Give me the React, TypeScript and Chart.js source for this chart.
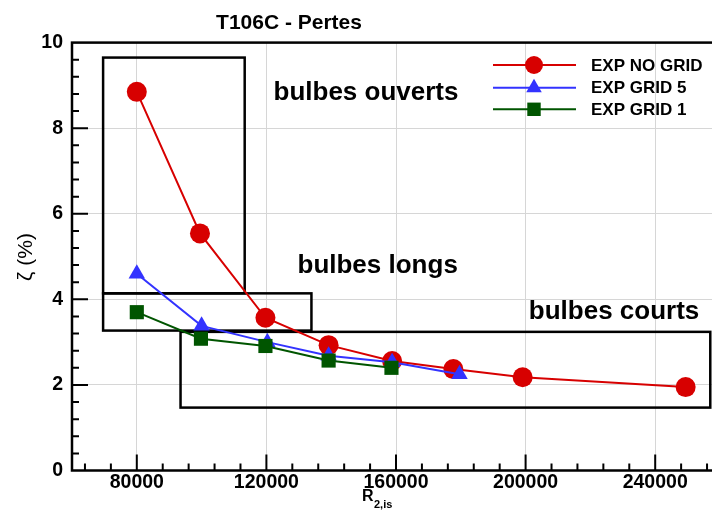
import React, { useEffect, useRef } from 'react';
import { Chart, registerables } from 'chart.js';

Chart.register(...registerables);

// ---- data ----
const chartTitle = 'T106C - Pertes';
const seriesNames = ['EXP NO GRID', 'EXP GRID 5', 'EXP GRID 1'];
const seriesColors = ['#d70000', '#3333ff', '#005500'];
const seriesMarkers = ['circle', 'triangle', 'rect'];

const noGridX = [80000, 99500, 119700, 139200, 158800, 177700, 199100, 249400];
const noGridY = [8.85, 5.54, 3.57, 2.93, 2.56, 2.37, 2.18, 1.95];
const grid5X = [80000, 100000, 120300, 139200, 158800, 179600];
const grid5Y = [4.6, 3.38, 3.0, 2.68, 2.53, 2.25];
const grid1X = [80000, 99800, 119700, 139200, 158600];
const grid1Y = [3.7, 3.08, 2.91, 2.57, 2.4];

const xTicks = [80000, 120000, 160000, 200000, 240000];
const yTicks = [0, 2, 4, 6, 8, 10];

const regionLabels = ['bulbes ouverts', 'bulbes longs', 'bulbes courts'];
const regionLabelX = [122200, 129600, 201000];
const regionLabelY = [8.65, 4.61, 3.53];
const boxX0 = [69600, 69600, 93500];
const boxX1 = [113300, 133900, 257000];
const boxY0 = [4.14, 3.27, 1.47];
const boxY1 = [9.65, 4.14, 3.24];

const FONT = '"Liberation Sans", Arial, Helvetica, sans-serif';

function drawMarker(ctx: CanvasRenderingContext2D, style: string, x: number, y: number, r: number, color: string) {
  ctx.fillStyle = color;
  ctx.beginPath();
  if (style === 'circle') {
    ctx.arc(x, y, r, 0, Math.PI * 2);
  } else if (style === 'triangle') {
    ctx.moveTo(x, y - r);
    ctx.lineTo(x + r * Math.sin(Math.PI * 2 / 3), y + r / 2);
    ctx.lineTo(x - r * Math.sin(Math.PI * 2 / 3), y + r / 2);
    ctx.closePath();
  } else {
    const s = r * Math.SQRT1_2;
    ctx.rect(x - s, y - s, 2 * s, 2 * s);
  }
  ctx.fill();
}

const decoPlugin = {
  id: 'deco',
  beforeDatasetsDraw(chart: any) {
    const { ctx, scales } = chart;
    const x = scales.x;
    const y = scales.y;
    ctx.save();
    ctx.strokeStyle = '#000';
    ctx.lineWidth = 2.5;
    for (let i = 0; i < boxX0.length; i++) {
      const l = x.getPixelForValue(boxX0[i]);
      const r = x.getPixelForValue(boxX1[i]);
      const t = y.getPixelForValue(boxY1[i]);
      const b = y.getPixelForValue(boxY0[i]);
      ctx.strokeRect(l, t, r - l, b - t);
    }
    ctx.fillStyle = '#000';
    ctx.font = 'bold 26px ' + FONT;
    ctx.textAlign = 'left';
    ctx.textBaseline = 'alphabetic';
    for (let i = 0; i < regionLabels.length; i++) {
      ctx.fillText(regionLabels[i], x.getPixelForValue(regionLabelX[i]), y.getPixelForValue(regionLabelY[i]));
    }
    ctx.restore();
  },
  afterDraw(chart: any) {
    const { ctx, chartArea, scales } = chart;
    const x = scales.x;
    const y = scales.y;
    ctx.save();
    // frame
    ctx.strokeStyle = '#000';
    ctx.lineWidth = 2.5;
    ctx.strokeRect(chartArea.left, chartArea.top, chartArea.right - chartArea.left, chartArea.bottom - chartArea.top);
    // inward ticks
    ctx.lineWidth = 2;
    ctx.beginPath();
    for (let v = 64000; v < x.max; v += 8000) {
      const len = v % 40000 === 0 ? 16 : 7;
      const px = x.getPixelForValue(v);
      ctx.moveTo(px, chartArea.bottom);
      ctx.lineTo(px, chartArea.bottom - len);
    }
    for (let k = 1; k < 25; k++) {
      const v = k * 0.4;
      const len = k % 5 === 0 ? 16 : 7;
      const py = y.getPixelForValue(v);
      ctx.moveTo(chartArea.left, py);
      ctx.lineTo(chartArea.left + len, py);
    }
    ctx.stroke();

    // title
    ctx.fillStyle = '#000';
    ctx.font = 'bold 21px ' + FONT;
    ctx.textAlign = 'center';
    ctx.textBaseline = 'alphabetic';
    ctx.fillText(chartTitle, 289, 29);

    // x title
    ctx.textAlign = 'left';
    ctx.font = 'bold 16px ' + FONT;
    ctx.fillText('R', 362, 501);
    ctx.font = 'bold 11px ' + FONT;
    ctx.fillText('2,is', 374, 508);

    // y title
    ctx.save();
    ctx.translate(26, 257);
    ctx.rotate(-Math.PI / 2);
    ctx.textAlign = 'center';
    ctx.textBaseline = 'middle';
    ctx.font = '21px ' + FONT;
    ctx.fillText('\u03B6 (%)', 0, 0);
    ctx.restore();

    // legend
    const rowsY = [65, 87.7, 109.3];
    const radii = [9, 9, 9.5];
    for (let i = 0; i < seriesNames.length; i++) {
      const ry = rowsY[i];
      ctx.strokeStyle = seriesColors[i];
      ctx.lineWidth = 2;
      ctx.beginPath();
      ctx.moveTo(493, ry);
      ctx.lineTo(576, ry);
      ctx.stroke();
      drawMarker(ctx, seriesMarkers[i], 534, ry, radii[i], seriesColors[i]);
      ctx.fillStyle = '#000';
      ctx.font = 'bold 17px ' + FONT;
      ctx.textAlign = 'left';
      ctx.textBaseline = 'middle';
      ctx.fillText(seriesNames[i], 591, ry + 1);
    }
    ctx.restore();
  },
};

function toPoints(xs: number[], ys: number[]) {
  return xs.map((v, i) => ({ x: v, y: ys[i] }));
}

export default function App() {
  const ref = useRef<HTMLCanvasElement>(null);
  useEffect(() => {
    if (!ref.current) return;
    const datasets = [
      { xs: noGridX, ys: noGridY, r: 10 },
      { xs: grid5X, ys: grid5Y, r: 9.5 },
      { xs: grid1X, ys: grid1Y, r: 10 },
    ].map((d, i) => ({
      label: seriesNames[i],
      data: toPoints(d.xs, d.ys),
      borderColor: seriesColors[i],
      backgroundColor: seriesColors[i],
      borderWidth: 2,
      pointStyle: seriesMarkers[i] as any,
      pointRadius: d.r,
      pointBorderWidth: 0,
      pointBackgroundColor: seriesColors[i],
      showLine: true,
      tension: 0,
      order: 3 - i,
      clip: false as any,
    }));
    const tickFont = { family: FONT, size: 19.5, weight: 'bold' as const };
    const chart = new Chart(ref.current, {
      type: 'scatter',
      data: { datasets },
      options: {
        responsive: false,
        animation: false,
        layout: { autoPadding: false, padding: { top: 42.6, right: 0, left: 0, bottom: 0 } },
        plugins: {
          legend: { display: false },
          tooltip: { enabled: false },
          title: { display: false },
        },
        scales: {
          x: {
            type: 'linear',
            min: 60000,
            max: 260000,
            afterBuildTicks: (s: any) => {
              s.ticks = xTicks.map((v) => ({ value: v }));
            },
            afterFit: (s: any) => {
              s.height = 51.5;
              s.paddingLeft = 0;
              s.paddingRight = 0;
            },
            grid: { color: '#d6d6d6', lineWidth: 1, drawTicks: false },
            border: { display: false },
            ticks: {
              color: '#000',
              font: tickFont,
              padding: 0,
              maxRotation: 0,
              autoSkip: false,
              callback: (v: any) => String(v),
            },
          },
          y: {
            type: 'linear',
            min: 0,
            max: 10,
            afterBuildTicks: (s: any) => {
              s.ticks = yTicks.map((v) => ({ value: v }));
            },
            afterFit: (s: any) => {
              s.width = 72;
              s.paddingTop = 0;
              s.paddingBottom = 0;
            },
            grid: { color: '#d6d6d6', lineWidth: 1, drawTicks: false },
            border: { display: false },
            ticks: {
              color: '#000',
              font: tickFont,
              padding: 9,
              autoSkip: false,
              callback: (v: any) => String(v),
            },
          },
        },
      },
      plugins: [decoPlugin],
    });
    return () => chart.destroy();
  }, []);
  return (
    <div style={{ position: 'absolute', left: 0, top: 0, width: 720, height: 522, background: '#fff' }}>
      <canvas ref={ref} width={720} height={522} style={{ display: 'block', width: 720, height: 522 }} />
    </div>
  );
}
